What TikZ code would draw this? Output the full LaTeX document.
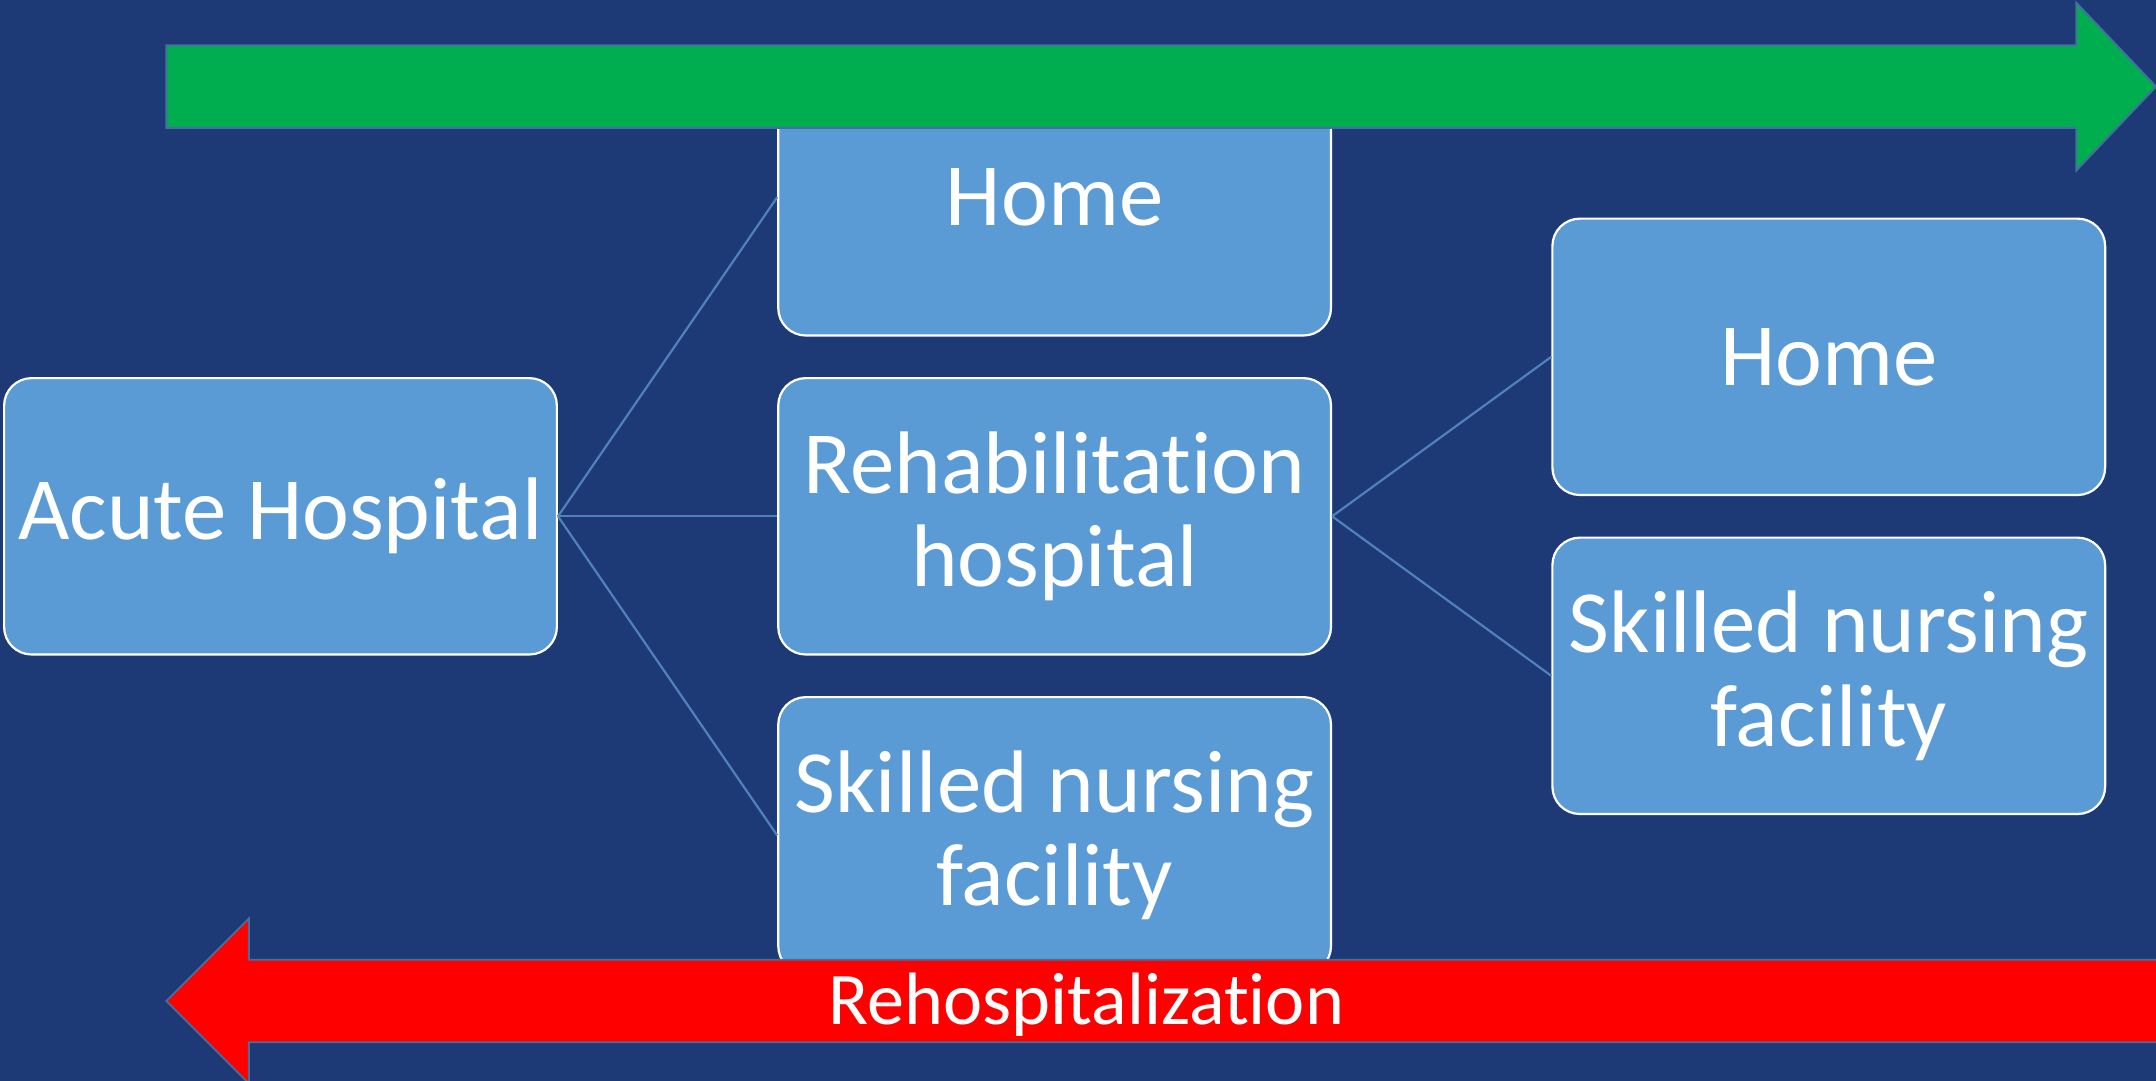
\documentclass[tikz,border=0pt]{standalone}
\usepackage{fontspec}
\setmainfont{Carlito}[Ligatures=NoCommon]
\definecolor{bgblue}{HTML}{1E3A76}
\definecolor{boxblue}{HTML}{5B9BD5}
\definecolor{arrgreen}{HTML}{00AE50}
\definecolor{arrred}{HTML}{FF0000}
\definecolor{edgeblue}{HTML}{41719C}
\definecolor{connblue}{HTML}{4E82BE}
\tikzset{
  box/.style={draw=white, line width=0.8pt, fill=boxblue, rounded corners=10pt,
    minimum width=201pt, minimum height=100.5pt, inner sep=0pt, align=center,
    text=white, font=\fontsize{32.3}{34}\selectfont},
  conn/.style={draw=connblue, line width=0.8pt},
  bigarrow/.style={draw=edgeblue, line width=0.7pt},
  arrlabel/.style={text=white, font=\fontsize{27}{27}\selectfont, inner sep=0pt}
}
\begin{document}
\begin{tikzpicture}[x=0.5pt,y=-0.5pt]
\clip (0,0) rectangle (1568,786);
\fill[bgblue] (0,0) rectangle (1568,786);
\node[box] (acute) at (204,375.5) {Acute Hospital};
\node[box] (home1) at (767,143.5) {Home};
\node[box] (rehab) at (767,375.5) {Rehabilitation\\hospital};
\node[box] (snf1) at (767,607.5) {Skilled nursing\\facility};
\node[box] (home2) at (1330,259.5) {Home};
\node[box] (snf2) at (1330,491.5) {Skilled nursing\\facility};
\draw[conn] (acute.east) -- (home1.west);
\draw[conn] (acute.east) -- (rehab.west);
\draw[conn] (acute.east) -- (snf1.west);
\draw[conn] (rehab.east) -- (home2.west);
\draw[conn] (rehab.east) -- (snf2.west);
\draw[bigarrow, fill=arrgreen] (121,33) -- (1510,33) -- (1510,2) -- (1568,63) -- (1510,124) -- (1510,93) -- (121,93) -- cycle;
\draw[bigarrow, fill=arrred] (1580,698) -- (181,698) -- (181,668) -- (121,728) -- (181,788) -- (181,758) -- (1580,758) -- cycle;
\node[arrlabel] (rehosp) at (790,731) {Rehospitalization};
\end{tikzpicture}
\end{document}
